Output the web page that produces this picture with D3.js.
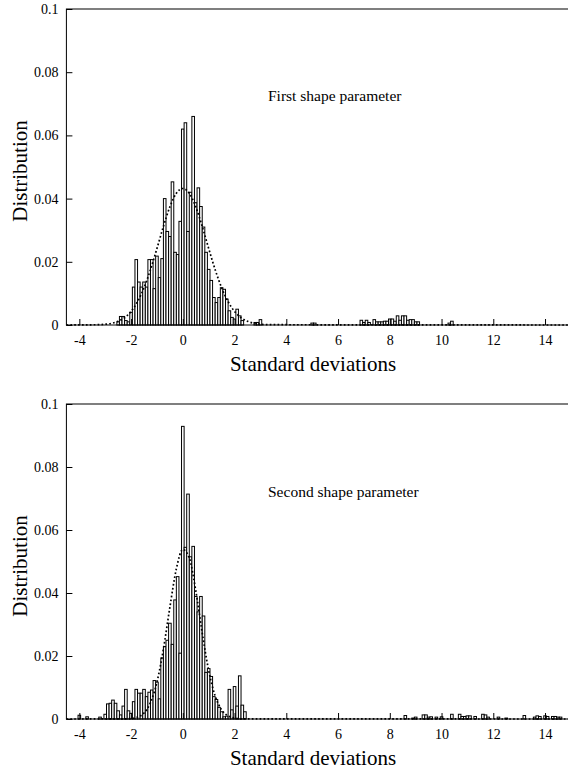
<!DOCTYPE html>
<html>
<head>
<meta charset="utf-8">
<script src="https://cdn.jsdelivr.net/npm/d3@7"></script>
<style>
  html, body { margin: 0; padding: 0; background: #fff; }
  svg { display: block; }
  text { font-family: "Liberation Serif", "Times New Roman", serif; fill: #000; }
</style>
</head>
<body>
<svg id="chart" width="568" height="769"></svg>
<script>
// ---------- data ----------
const xTickValues = [-4, -2, 0, 2, 4, 6, 8, 10, 12, 14];
const xTickLabels = ["-4", "-2", "0", "2", "4", "6", "8", "10", "12", "14"];
const yTickValues = [0, 0.02, 0.04, 0.06, 0.08, 0.1];
const yTickLabels = ["0", "0.02", "0.04", "0.06", "0.08", "0.1"];

// First shape parameter: bin centres (bin width 0.1) and heights
const firstBins = [-2.5,-2.4,-2.3,-2.2,-2.1,-2.0,-1.9,-1.8,-1.7,-1.6,-1.5,-1.4,-1.3,-1.2,-1.1,-1.0,-0.9,-0.8,-0.7,-0.6,-0.5,-0.4,-0.3,-0.2,-0.1,0.0,0.1,0.2,0.3,0.4,0.5,0.6,0.7,0.8,0.9,1.0,1.1,1.2,1.3,1.4,1.5,1.6,1.7,1.8,1.9,2.0,2.1,2.2,2.3,
  2.8,2.9,3.0,5.0,5.1,6.9,7.0,7.1,7.2,7.4,7.5,7.6,7.7,7.8,7.9,8.0,8.1,8.2,8.3,8.4,8.5,8.6,8.7,8.8,8.9,9.0,9.1,10.3,10.4];
const firstValues = [0.001,0.0027,0.0027,0.0014,0.001,0.004,0.012,0.0207,0.0136,0.012,0.0136,0.012,0.0207,0.0207,0.0115,0.0218,0.015,0.021,0.040,0.0296,0.028,0.0453,0.023,0.0223,0.0328,0.062,0.064,0.0296,0.042,0.066,0.0387,0.0434,0.0375,0.031,0.023,0.0176,0.0141,0.0087,0.0071,0.0087,0.0118,0.0113,0.0082,0.0045,0.0024,0.0019,0.005,0.0029,0.0014,
  0.0008,0.0008,0.0017,0.0006,0.0006,0.0015,0.0008,0.0015,0.0008,0.0017,0.001,0.001,0.001,0.0012,0.0012,0.0019,0.0019,0.0012,0.0029,0.0015,0.0029,0.0029,0.0015,0.0017,0.0017,0.001,0.001,0.0006,0.0012];

// Second shape parameter
const secondBins = [-4.0,-3.7,-3.2,-3.0,-2.9,-2.8,-2.7,-2.6,-2.5,-2.4,-2.3,-2.2,-2.1,-2.0,-1.9,-1.8,-1.7,-1.6,-1.5,-1.4,-1.3,-1.2,-1.1,-1.0,-0.9,-0.8,-0.7,-0.6,-0.5,-0.4,-0.3,-0.2,-0.1,0.0,0.1,0.2,0.3,0.4,0.5,0.6,0.7,0.8,0.9,1.0,1.1,1.2,1.3,1.4,1.5,1.6,1.7,1.8,1.9,2.0,2.1,2.2,2.3,2.4,
  8.6,8.9,9.0,9.3,9.4,9.5,9.6,9.8,10.0,10.4,10.7,10.8,10.9,11.0,11.1,11.3,11.6,11.7,11.8,12.2,12.5,13.2,13.6,13.7,13.8,14.0,14.1,14.3,14.4,14.5,14.6];
const secondValues = [0.0012,0.0007,0.0006,0.0015,0.0048,0.005,0.006,0.005,0.0026,0.0013,0.0041,0.0094,0.0026,0.0018,0.0055,0.0094,0.0082,0.0082,0.0094,0.0071,0.0085,0.0092,0.0122,0.0117,0.0064,0.0194,0.023,0.025,0.0304,0.0237,0.0378,0.0452,0.0209,0.0929,0.0545,0.0714,0.0515,0.0548,0.0389,0.034,0.0389,0.0327,0.0148,0.016,0.0135,0.0071,0.0062,0.0037,0.0023,0.0007,0.0009,0.0094,0.0029,0.0103,0.0041,0.0137,0.0044,0.0023,
  0.0011,0.0003,0.0006,0.0013,0.0013,0.0006,0.0007,0.0006,0.0007,0.0015,0.0015,0.0008,0.0008,0.001,0.001,0.0008,0.0015,0.0013,0.0006,0.0006,0.0003,0.0011,0.0006,0.001,0.0008,0.001,0.0008,0.0008,0.0008,0.0006,0.0006];

// dotted fitted curves
const firstCurveX = [-4.5,-3.25,-3.0,-2.75,-2.5,-2.25,-2.0,-1.75,-1.5,-1.25,-1.0,-0.75,-0.5,-0.25,0,0.25,0.5,0.75,1.0,1.25,1.5,1.75,2.0,2.25,2.5,2.75,3.0,3.25,15];
const firstCurveY = [0,0.0001,0.00024,0.00054,0.0012,0.0023,0.0043,0.0074,0.0118,0.0175,0.0242,0.0312,0.0374,0.0417,0.0432,0.0417,0.0374,0.0312,0.0242,0.0175,0.0118,0.0074,0.0043,0.0023,0.0012,0.00054,0.00024,0.0001,0];
const secondCurveX = [-4.5,-2.25,-2.0,-1.75,-1.5,-1.25,-1.0,-0.75,-0.5,-0.25,0,0.25,0.5,0.75,1.0,1.25,1.5,1.75,2.0,2.25,15];
const secondCurveY = [0,0.00005,0.00016,0.0006,0.0019,0.0052,0.0117,0.0222,0.0355,0.0477,0.0538,0.0511,0.0408,0.0273,0.0154,0.0073,0.0029,0.001,0.0003,0.00005,0];

const panels = [
  { title: "First shape parameter", bins: firstBins, values: firstValues, cx: firstCurveX, cy: firstCurveY,
    top: 9, bottom: 325, titleX: 268, titleY: 101, xlabY: 371, ylabY: 171 },
  { title: "Second shape parameter", bins: secondBins, values: secondValues, cx: secondCurveX, cy: secondCurveY,
    top: 404, bottom: 719, titleX: 268, titleY: 497, xlabY: 765, ylabY: 566 }
];

// ---------- drawing ----------
const svg = d3.select("#chart");
const x = d3.scaleLinear().domain([-4.5, 15]).range([66.4, 570.9]);
const binW = 0.1;
const serif = "'Liberation Serif', 'Times New Roman', serif";

panels.forEach(p => {
  const y = d3.scaleLinear().domain([0, 0.1]).range([p.bottom, p.top]);
  const g = svg.append("g");

  // bars
  g.selectAll("rect.bar").data(p.bins.map((b, i) => ({ b, v: p.values[i] })))
    .enter().append("rect").attr("class", "bar")
    .attr("x", d => x(d.b - binW / 2))
    .attr("width", d => x(d.b + binW / 2) - x(d.b - binW / 2))
    .attr("y", d => y(d.v))
    .attr("height", d => y(0) - y(d.v))
    .attr("fill", "#fff").attr("stroke", "#000").attr("stroke-width", 1);

  // dotted curve
  const line = d3.line().x((d, i) => x(p.cx[i])).y((d, i) => y(p.cy[i])).curve(d3.curveMonotoneX);
  g.append("path").attr("d", line(p.cx))
    .attr("fill", "none").attr("stroke", "#000").attr("stroke-width", 1.7)
    .attr("stroke-dasharray", "1.7,2.2");

  // frame
  g.append("rect").attr("x", x(-4.5)).attr("y", y(0.1))
    .attr("width", x(15) - x(-4.5)).attr("height", y(0) - y(0.1))
    .attr("fill", "none").attr("stroke", "#000").attr("stroke-width", 1);

  // x axis (ticks inward)
  const xa = d3.axisBottom(x).tickValues(xTickValues).tickSizeInner(-6).tickSizeOuter(0).tickPadding(10)
    .tickFormat((d, i) => xTickLabels[i]);
  const xg = g.append("g").attr("transform", `translate(0,${y(0)})`).call(xa);
  xg.select(".domain").remove();
  xg.attr("font-family", null);
  xg.selectAll("text").attr("font-size", 14).style("font-family", serif).style("fill", "#000");

  // y axis (ticks inward)
  const ya = d3.axisLeft(y).tickValues(yTickValues).tickSizeInner(-6).tickSizeOuter(0).tickPadding(8)
    .tickFormat((d, i) => yTickLabels[i]);
  const yg = g.append("g").attr("transform", `translate(${x(-4.5)},0)`).call(ya);
  yg.select(".domain").remove();
  yg.attr("font-family", null);
  yg.selectAll("text").attr("font-size", 14).style("font-family", serif).style("fill", "#000");

  // labels
  g.append("text").attr("x", p.titleX).attr("y", p.titleY).attr("font-size", 15.5).style("font-family", serif).text(p.title);
  g.append("text").attr("x", 313).attr("y", p.xlabY).attr("text-anchor", "middle").attr("font-size", 21)
    .style("font-family", serif).text("Standard deviations");
  g.append("text").attr("transform", `translate(27,${p.ylabY}) rotate(-90)`)
    .attr("text-anchor", "middle").attr("font-size", 21).style("font-family", serif).text("Distribution");
});
</script>
</body>
</html>
